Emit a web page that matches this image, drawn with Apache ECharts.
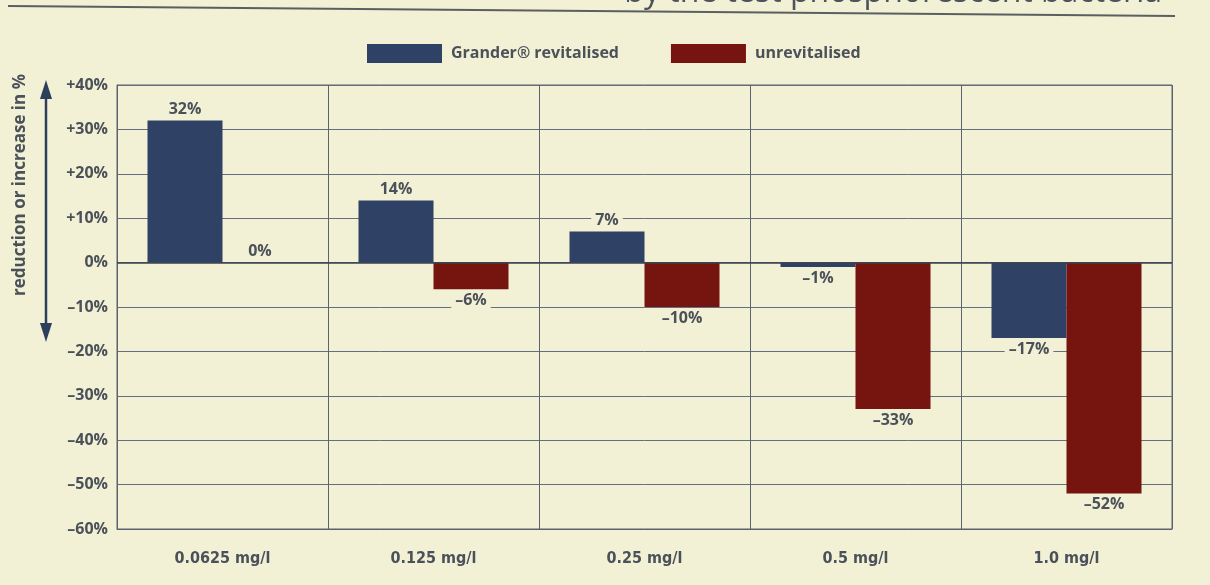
<!DOCTYPE html>
<html>
<head>
<meta charset="utf-8">
<script src="https://cdn.jsdelivr.net/npm/echarts@6/dist/echarts.min.js"></script>
<style>
  html, body { margin: 0; padding: 0; background: #f3f1d5; }
  #chart { width: 1210px; height: 585px; }
</style>
</head>
<body>
<div id="chart"></div>
<script>
// Concentrations tested
const categories = ['0.0625 mg/l', '0.125 mg/l', '0.25 mg/l', '0.5 mg/l', '1.0 mg/l'];
// Change in %, per concentration
const revitalised = [32, 14, 7, -1, -17];
const unrevitalised = [0, -6, -10, -33, -52];
const seriesNames = ['Grander\u00AE revitalised', 'unrevitalised'];
const axisTitle = 'reduction or increase in %';
const headline = 'by the test phosphorescent bacteria';

const BG = '#f3f1d5';
const TEXT = '#4b5159';
const FONT = '"Open Sans", "Noto Sans", sans-serif';

function pct(v) {
  if (v > 0) return '+' + v + '%';
  if (v < 0) return '\u2013' + Math.abs(v) + '%';
  return '0%';
}
function valueLabel(v) {
  return (v < 0 ? '\u2013' + Math.abs(v) : String(v)) + '%';
}
function items(values) {
  return values.map(v => ({
    value: v,
    label: { position: v < 0 ? 'bottom' : 'top' }
  }));
}

const labelStyle = {
  show: true,
  formatter: p => valueLabel(p.value),
  color: TEXT,
  fontFamily: FONT,
  fontWeight: 'bold',
  fontSize: 16,
  backgroundColor: BG,
  padding: [0, 4],
  distance: 3
};

const chart = echarts.init(document.getElementById('chart'));
chart.setOption({
  backgroundColor: BG,
  animation: false,
  legend: {
    left: 362,
    top: 39,
    itemWidth: 75,
    itemHeight: 19,
    itemGap: 52,
    icon: 'rect',
    textStyle: { color: TEXT, fontFamily: FONT, fontWeight: 'bold', fontSize: 16, padding: [0, 0, 0, 4] },
    data: seriesNames
  },
  grid: {
    left: 117, right: 38, top: 85, bottom: 56,
    show: true,
    borderColor: '#5b6371',
    borderWidth: 1,
    backgroundColor: 'transparent'
  },
  xAxis: {
    type: 'category',
    data: categories,
    axisLine: { onZero: false, lineStyle: { color: '#5b6371' } },
    axisTick: { show: false },
    splitLine: { show: true, lineStyle: { color: '#5b6371', width: 1 } },
    axisLabel: {
      margin: 22,
      color: TEXT,
      fontFamily: '"Liberation Sans Narrow", "DejaVu Sans Condensed", sans-serif',
      fontWeight: 'bold',
      fontSize: 16
    }
  },
  yAxis: {
    type: 'value',
    min: -60,
    max: 40,
    interval: 10,
    axisLine: { show: true, lineStyle: { color: '#5b6371' } },
    axisTick: { show: false },
    splitLine: { lineStyle: { color: '#656e7c', width: 1 } },
    axisLabel: {
      margin: 9,
      formatter: pct,
      color: TEXT,
      fontFamily: FONT,
      fontWeight: 'bold',
      fontSize: 16
    }
  },
  series: [
    {
      name: seriesNames[0],
      type: 'bar',
      barWidth: 75,
      barGap: '0%',
      itemStyle: { color: '#2f4164' },
      label: labelStyle,
      data: items(revitalised),
      markLine: {
        silent: true,
        symbol: 'none',
        label: { show: false },
        lineStyle: { color: '#3a414c', width: 1.6, type: 'solid' },
        data: [{ yAxis: 0 }]
      },
      z: 3
    },
    {
      name: seriesNames[1],
      type: 'bar',
      barWidth: 75,
      barGap: '0%',
      itemStyle: { color: '#76150f' },
      label: labelStyle,
      data: items(unrevitalised),
      z: 3
    }
  ],
  graphic: [
    // headline, its upper part cut off by the page edge
    {
      type: 'text',
      right: 48,
      top: -23,
      style: {
        text: headline,
        fill: '#4d535b',
        font: '32px ' + FONT
      }
    },
    // rule under the headline
    {
      type: 'line',
      shape: { x1: 8, y1: 6, x2: 1175, y2: 16 },
      style: { stroke: '#5a5f62', lineWidth: 2 }
    },
    // vertical axis title
    {
      type: 'text',
      x: 20,
      y: 185,
      rotation: Math.PI / 2,
      style: {
        text: axisTitle,
        fill: TEXT,
        font: 'bold 17px ' + FONT,
        align: 'center',
        verticalAlign: 'middle'
      }
    },
    // double-headed arrow beside the axis title
    {
      type: 'line',
      shape: { x1: 46, y1: 94, x2: 46, y2: 328 },
      style: { stroke: '#2e3f5c', lineWidth: 2.5 }
    },
    {
      type: 'polygon',
      shape: { points: [[46, 80], [40, 99], [52, 99]] },
      style: { fill: '#2e3f5c' }
    },
    {
      type: 'polygon',
      shape: { points: [[46, 342], [40, 323], [52, 323]] },
      style: { fill: '#2e3f5c' }
    }
  ]
});
</script>
</body>
</html>
